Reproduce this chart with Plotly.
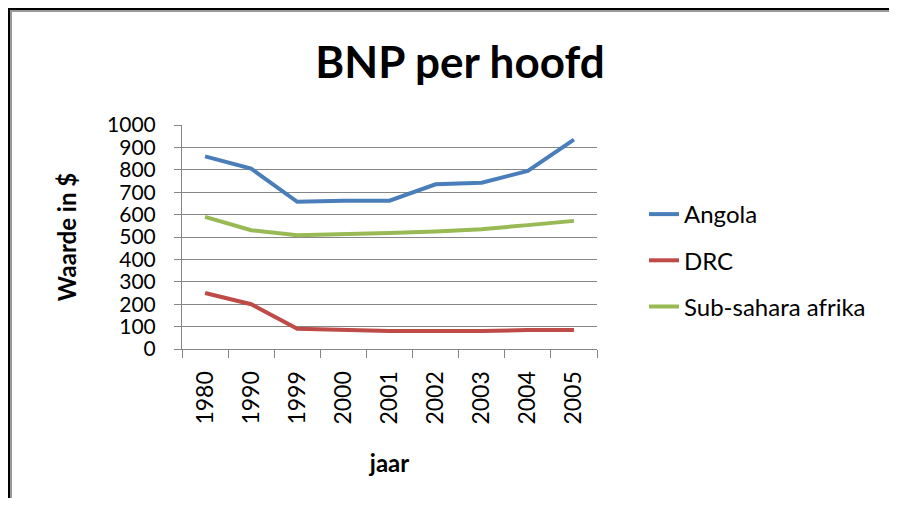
import plotly.graph_objects as go

# jaren (categorie-as)
jaren = ["1980", "1990", "1999", "2000", "2001", "2002", "2003", "2004", "2005"]

# BNP per hoofd
angola = [860, 805, 657, 662, 662, 735, 742, 795, 935]
drc = [250, 200, 90, 85, 80, 80, 80, 85, 85]
sub_sahara = [590, 530, 508, 512, 518, 525, 535, 553, 572]

series = [
    ("Angola", angola, "#4A7EBB"),
    ("DRC", drc, "#BE4B48"),
    ("Sub-sahara afrika", sub_sahara, "#98B954"),
]

fig = go.Figure()
for i, (naam, waarden, kleur) in enumerate(series):
    fig.add_trace(go.Scatter(x=jaren, y=waarden, name=naam, mode="lines",
                             legendgroup=str(i),
                             line=dict(color=kleur, width=4)))

# pagina heeft 8px body-marge
W, H = 881, 490
L, R, T, B = 174, 589, 117, 341


def px_x(x):
    return (x - L) / (R - L)


def px_y(y):
    return (B - y) / (B - T)


font = "Lato, 'Open Sans', sans-serif"

fig.update_layout(
    width=W, height=H,
    margin=dict(l=L, r=W - R, t=T, b=H - B),
    plot_bgcolor="white", paper_bgcolor="white",
    font=dict(family=font, size=22, color="black"),
    title=dict(text="<b>BNP per hoofd</b>", x=452 / W, xanchor="center",
               y=1 - 55 / H, yanchor="middle",
               font=dict(size=44, family=font)),
    showlegend=True,
    legend=dict(x=px_x(636), xanchor="left", y=px_y(184), yanchor="top",
                tracegroupgap=12, font=dict(size=24),
                bgcolor="rgba(0,0,0,0)"),
    xaxis=dict(type="category", range=[-0.5, len(jaren) - 0.5],
               tickson="boundaries", ticks="outside",
               ticklen=8, tickcolor="#868686", showline=True,
               linecolor="#868686", linewidth=1, showgrid=False,
               tickangle=-90, tickfont=dict(size=23), ticklabelstandoff=12,
               title=dict(text="<b>jaar</b>", font=dict(size=24), standoff=31)),
    yaxis=dict(range=[0, 1000], dtick=100, ticks="outside", ticklen=7,
               tickcolor="#868686", showline=True, linecolor="#868686",
               gridcolor="#868686", gridwidth=1, zeroline=False,
               tickfont=dict(size=21), ticklabelstandoff=14,
               title=dict(text="<b>Waarde in $</b>", font=dict(size=24),
                          standoff=23)),
)

# kader linksboven
fig.add_shape(type="line", xref="paper", yref="paper",
              x0=px_x(1), x1=px_x(1), y0=px_y(0), y1=px_y(H + 5),
              line=dict(color="black", width=2))
fig.add_shape(type="line", xref="paper", yref="paper",
              x0=px_x(3), x1=px_x(3), y0=px_y(2), y1=px_y(H + 5),
              line=dict(color="#9a9a9a", width=2))
fig.add_shape(type="line", xref="paper", yref="paper",
              x0=px_x(0), x1=px_x(W + 5), y0=px_y(1), y1=px_y(1),
              line=dict(color="black", width=2))
fig.add_shape(type="line", xref="paper", yref="paper",
              x0=px_x(2), x1=px_x(W + 5), y0=px_y(3), y1=px_y(3),
              line=dict(color="#9a9a9a", width=2))

fig.write_html("out.html")
